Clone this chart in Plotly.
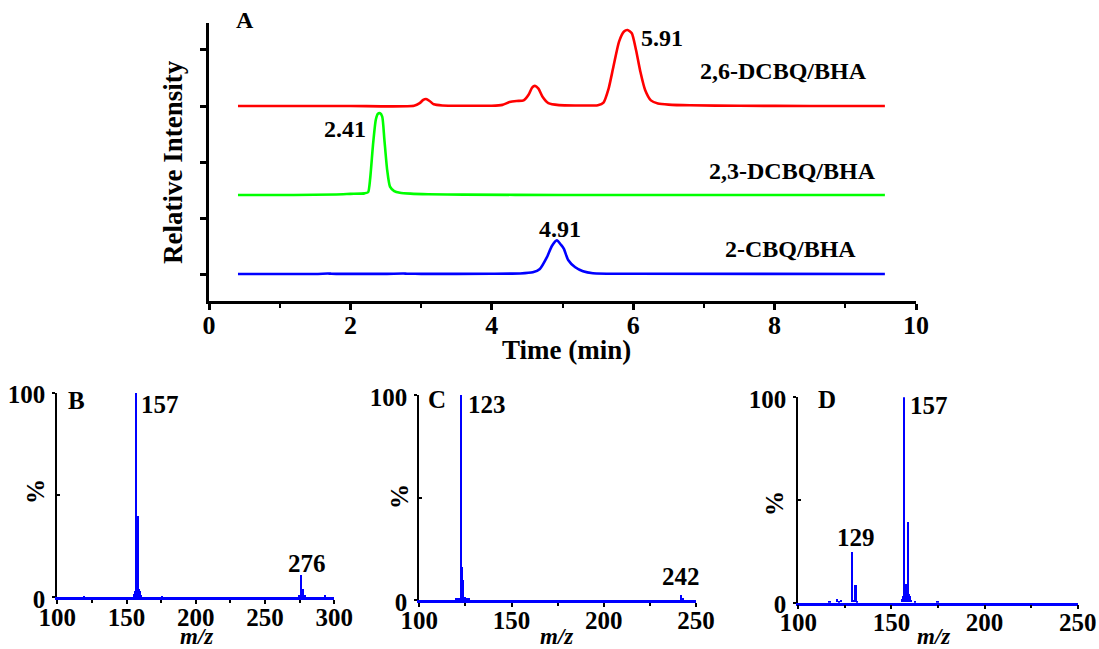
import plotly.graph_objects as go

W, H = 1099, 649
FONT = "Liberation Serif"

# ---------------- Panel A: chromatograms (time in min, intensity above own baseline) ----
red_label = "2,6-DCBQ/BHA"
red_t = [0.41, 1.0, 2.0, 2.9, 2.98, 3.03, 3.07, 3.12, 3.18, 3.3, 3.6, 4.0, 4.15, 4.25, 4.35,
         4.45, 4.52, 4.57, 4.61, 4.66, 4.72, 4.8, 4.95, 5.2, 5.5, 5.58, 5.65, 5.72, 5.8, 5.87,
         5.92, 5.98, 6.04, 6.1, 6.17, 6.25, 6.35, 6.5, 6.8, 7.5, 8.5, 9.56]
red_i = [0.0, 0.0, 0.0, 0.004, 0.05, 0.11, 0.125, 0.09, 0.03, 0.01, 0.005, 0.005, 0.02, 0.07,
         0.09, 0.1, 0.2, 0.33, 0.36, 0.31, 0.16, 0.05, 0.015, 0.01, 0.015, 0.06, 0.3, 0.7, 1.15,
         1.33, 1.357, 1.3, 1.0, 0.62, 0.28, 0.1, 0.045, 0.025, 0.012, 0.004, 0.0, 0.0]

green_label = "2,3-DCBQ/BHA"
green_t = [0.41, 1.2, 1.8, 2.0, 2.2, 2.25, 2.28, 2.32, 2.36, 2.39, 2.42, 2.45, 2.48, 2.52,
           2.56, 2.62, 2.7, 2.85, 3.1, 3.6, 5.0, 7.0, 9.56]
green_i = [0.0, 0.0, 0.01, 0.02, 0.03, 0.05, 0.3, 0.9, 1.35, 1.45, 1.46, 1.4, 1.0, 0.45,
           0.15, 0.07, 0.04, 0.025, 0.015, 0.008, 0.0, 0.0, 0.0]

blue_label = "2-CBQ/BHA"
blue_t = [0.41, 1.5, 1.68, 1.72, 1.8, 2.5, 2.75, 2.8, 3.0, 4.0, 4.4, 4.58, 4.68, 4.78, 4.85,
          4.92, 4.98, 5.02, 5.08, 5.18, 5.29, 5.43, 6.0, 9.56]
blue_i = [0.0, 0.0, 0.008, 0.006, 0.003, 0.003, 0.008, 0.005, 0.003, 0.004, 0.01, 0.03, 0.09,
          0.3, 0.5, 0.6, 0.52, 0.45, 0.25, 0.12, 0.05, 0.015, 0.005, 0.0]

trace_offsets = [4.0, 2.41, 1.0]          # stacking baselines (red, green, blue)
peak_labels_A = ["5.91", "2.41", "4.91"]
time_ticks = [0, 2, 4, 6, 8, 10]

# ---------------- Panels B-D: mass spectra (m/z, relative abundance %) -------------------
b_mz = [120, 156.0, 156.5, 157, 157.5, 158, 158.5, 159, 159.5, 160, 161, 176,
        275, 276, 277, 278, 279, 294]
b_int = [0.5, 1.5, 3, 100, 9, 9, 9, 40, 4, 3, 1, 0.5, 1, 11, 2, 4, 1, 1]

c_mz = [120, 121, 122.5, 123, 123.4, 124, 125, 126, 127, 242, 243]
c_int = [0.5, 1, 1, 100, 16, 10, 1.5, 1, 0.5, 2.5, 0.5]

d_mz = [117, 121, 122, 123, 129, 130, 131, 132, 156, 156.5, 157, 157.5, 158, 158.5,
        159, 159.5, 160, 161, 163, 175]
d_int = [0.5, 1.5, 0.5, 1, 24.5, 1, 8.5, 0.5, 1.5, 3, 100, 9, 9, 9, 39, 4, 3, 1, 0.5, 0.5]

b_labels = ["157", "276"]
c_labels = ["123", "242"]
d_labels = ["157", "129"]


def px(x):
    return x / W


def py(y):
    return 1 - y / H


fig = go.Figure()

for t, inten, off, col in [(red_t, red_i, trace_offsets[0], "#ff0000"),
                           (green_t, green_i, trace_offsets[1], "#00ff00"),
                           (blue_t, blue_i, trace_offsets[2], "#0000ff")]:
    fig.add_trace(go.Scatter(x=t, y=[v + off for v in inten], mode="lines",
                             line=dict(color=col, width=2.6, shape="spline", smoothing=0.6),
                             xaxis="x", yaxis="y", showlegend=False, hoverinfo="skip"))

for mz, inten, ax, w in [(b_mz, b_int, "2", 1.1), (c_mz, c_int, "3", 0.9), (d_mz, d_int, "4", 0.9)]:
    fig.add_trace(go.Bar(x=mz, y=inten, width=w, marker=dict(color="#0000ff", line=dict(width=0)),
                         xaxis="x" + ax, yaxis="y" + ax, showlegend=False, hoverinfo="skip"))

tickfontA = dict(family=FONT, size=26, color="black", weight="bold")
tickfontB = dict(family=FONT, size=25, color="black", weight="bold")

layout = dict(
    width=W, height=H, margin=dict(l=0, r=0, t=0, b=0, pad=0, autoexpand=False),
    paper_bgcolor="white", plot_bgcolor="white", bargap=0, showlegend=False,
    xaxis=dict(domain=[px(209), px(916)], range=[0, 10], anchor="y", automargin=False,
               tickvals=time_ticks, ticks="outside", ticklen=6, tickwidth=2.5,
               ticklabelstandoff=-7,
               showline=True, linewidth=3, linecolor="black", tickcolor="black",
               showgrid=False, zeroline=False, tickfont=tickfontA,
               minor=dict(dtick=1, ticks="outside", ticklen=4, tickwidth=2, tickcolor="black",
                          showgrid=False)),
    yaxis=dict(domain=[py(301), py(23)], range=[0.518, 5.482], anchor="x", automargin=False,
               tickvals=[1, 2, 3, 4, 5], showticklabels=False, ticks="outside", ticklen=6,
               tickwidth=2.5, showline=True, linewidth=3, linecolor="black", tickcolor="black",
               showgrid=False, zeroline=False),
)

panels = [("2", 57.3, 334.3, 597, 392.7, [100, 300]),
          ("3", 419.3, 696.0, 600, 395.0, [100, 250]),
          ("4", 798.3, 1077.7, 602.7, 397.3, [100, 250])]
for ax, x0, x1, yb, yt, rng in panels:
    layout["xaxis" + ax] = dict(domain=[px(x0), px(x1)], range=rng, anchor="y" + ax,
                                automargin=False, ticklabelstandoff=-8,
                                dtick=50, tick0=100, ticks="outside", ticklen=4, tickwidth=1.5,
                                showline=True, linewidth=2.5, linecolor="#0000ff",
                                tickcolor="black", showgrid=False, zeroline=False,
                                tickfont=tickfontB,
                                minor=dict(dtick=25, ticks="outside", ticklen=3, tickwidth=1.5,
                                           tickcolor="black", showgrid=False))
    layout["yaxis" + ax] = dict(domain=[py(yb), py(yt)], range=[0, 100], anchor="x" + ax,
                                automargin=False, ticklabelstandoff=2, ticklabelshift=2,
                                tickvals=[0, 100], ticks="outside", ticklen=3, tickwidth=1.5,
                                showline=True, linewidth=2, linecolor="black", tickcolor="black",
                                showgrid=False, zeroline=False, tickfont=tickfontB,
                                minor=dict(tickvals=[50], ticks="inside", ticklen=3, tickwidth=1.5,
                                           tickcolor="black", showgrid=False))

fig.update_layout(**layout)


def ann(text, x, y, size, angle=0):
    fig.add_annotation(text=text, x=px(x), y=py(y), xref="paper", yref="paper",
                       xanchor="center", yanchor="middle", showarrow=False, textangle=angle,
                       font=dict(family=FONT, size=size, color="black", weight="bold"))


# Panel A texts
ann("A", 245, 20, 24)
ann(peak_labels_A[0], 662, 38, 24)
ann(red_label, 783, 71, 24)
ann(peak_labels_A[1], 345, 129, 24)
ann(green_label, 792, 171, 24)
ann(peak_labels_A[2], 560, 229, 24)
ann(blue_label, 790, 249, 24)
ann("Time (min)", 566, 350, 27)
ann("Relative Intensity", 173, 162, 27, angle=-90)

# Panel B-D texts
ann("B", 76, 400, 25)
ann(b_labels[0], 160, 404, 25)
ann(b_labels[1], 307, 563, 25)
ann("%", 35, 492, 25, angle=-90)
ann("<i>m/z</i>", 196, 636, 23)

ann("C", 437, 399, 25)
ann(c_labels[0], 487, 404, 25)
ann(c_labels[1], 681, 576, 25)
ann("%", 399, 497, 25, angle=-90)
ann("<i>m/z</i>", 556, 636, 23)

ann("D", 827, 399, 25)
ann(d_labels[0], 929, 405, 25)
ann(d_labels[1], 856, 537, 25)
ann("%", 774, 504, 25, angle=-90)
ann("<i>m/z</i>", 933, 636, 23)

fig.write_html("out.html", config={"displayModeBar": False},
               post_script="document.body.style.margin='0';document.body.style.overflow='hidden';")
